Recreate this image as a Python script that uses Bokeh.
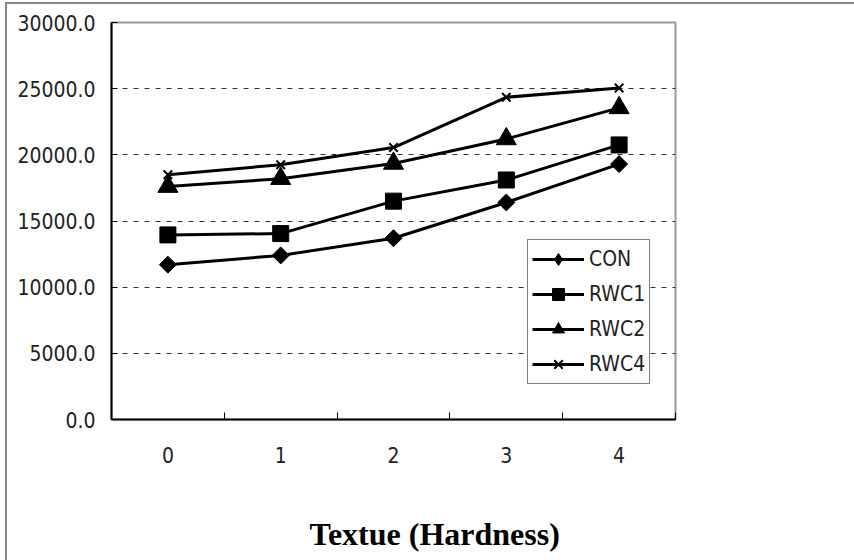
import math
from bokeh.plotting import figure
from bokeh.models import (Range1d, FixedTicker, NumeralTickFormatter, Title,
                          Legend, LegendItem, InlineStyleSheet, LinearAxis)
from bokeh.embed import file_html
from bokeh.resources import INLINE

# ---- data ----
x_labels = ["0", "1", "2", "3", "4"]
series_names = ["CON", "RWC1", "RWC2", "RWC4"]
con = [11700, 12400, 13700, 16400, 19300]
rwc1 = [13950, 14050, 16500, 18100, 20750]
rwc2 = [17600, 18200, 19350, 21200, 23550]
rwc4 = [18500, 19250, 20550, 24350, 25050]
y_ticks = [0, 5000, 10000, 15000, 20000, 25000, 30000]
x_title = "Textue (Hardness)"

NARROW = "'Liberation Sans Narrow', 'DejaVu Sans Condensed', sans-serif"

x_idx = list(range(len(x_labels)))

p = figure(width=854, height=560,
           x_range=Range1d(-0.5, len(x_labels) - 0.5),
           y_range=Range1d(y_ticks[0], y_ticks[-1]),
           output_backend="svg", toolbar_location=None,
           min_border_left=111, min_border_right=179,
           min_border_top=22, min_border_bottom=141)

p.background_fill_color = "white"
p.border_fill_color = "white"
p.outline_line_color = "#999999"
p.outline_line_width = 2

# outer chart border (left and top edges visible in the reference)
p.stylesheets = [InlineStyleSheet(css="""
:host { position: relative; }
:host::after { content: ""; position: absolute; left: 5px; top: 2px; right: 0; bottom: 0;
  border-left: 2px solid #8a8a8a; border-top: 2px solid #8a8a8a; pointer-events: none; }
""")]

# grid
p.xgrid.visible = False
p.ygrid.ticker = FixedTicker(ticks=y_ticks[1:-1])
p.ygrid.grid_line_color = "#303030"
p.ygrid.grid_line_dash = "5 6"
p.ygrid.grid_line_width = 1

# y axis
p.yaxis.ticker = FixedTicker(ticks=y_ticks)
p.yaxis.formatter = NumeralTickFormatter(format="0.0")
p.yaxis.major_tick_in = 6
p.yaxis.major_tick_out = 0
p.yaxis.minor_tick_line_color = None
p.yaxis.major_label_standoff = 16
p.yaxis.major_label_text_font = NARROW
p.yaxis.major_label_text_font_size = "21px"
p.yaxis.major_label_text_color = "#222222"
p.yaxis.axis_line_color = "black"
p.yaxis.axis_line_width = 2
p.yaxis.major_tick_line_color = "black"

# x axis: labels at category centres, ticks at boundaries
p.xaxis.ticker = FixedTicker(ticks=x_idx,
                             minor_ticks=[i - 0.5 for i in range(len(x_labels) + 1)])
p.xaxis.major_label_overrides = {i: lab for i, lab in zip(x_idx, x_labels)}
p.xaxis.major_tick_in = 0
p.xaxis.major_tick_out = 0
p.xaxis.minor_tick_in = 7
p.xaxis.minor_tick_out = 0
p.xaxis.minor_tick_line_color = "black"
p.xaxis.major_label_standoff = 27
p.xaxis.major_label_text_font = NARROW
p.xaxis.major_label_text_font_size = "21px"
p.xaxis.major_label_text_color = "#222222"
p.xaxis.axis_line_color = "black"
p.xaxis.axis_line_width = 2

# invisible spacer axis (one hidden tick) to push the bottom title down
spacer = LinearAxis(ticker=FixedTicker(ticks=[x_idx[0]]), major_tick_out=50,
                    major_tick_in=0, minor_tick_out=0, minor_tick_in=0,
                    major_label_standoff=0, major_label_overrides={x_idx[0]: ""},
                    axis_line_color=None, major_tick_line_color=None,
                    minor_tick_line_color=None)
p.add_layout(spacer, "below")

# series
styles = [
    (con, dict(marker="square", size=12, angle=math.pi / 4)),
    (rwc1, dict(marker="square", size=16)),
    (rwc2, dict(marker="triangle", size=20)),
    (rwc4, dict(marker="x", size=12, line_width=2)),
]
items = []
for name, (vals, mk) in zip(series_names, styles):
    lr = p.line(x_idx, vals, line_color="black", line_width=3)
    sr = p.scatter(x_idx, vals, fill_color="black", line_color="black", **mk)
    rends = [lr, sr]
    if mk.get("angle"):
        # legend swatch: a diamond (rotation is not kept in legend swatches)
        proxy = p.scatter(x_idx, vals, marker="diamond", size=14,
                          fill_color="black", line_color="black", visible=False)
        rends = [lr, proxy]
    items.append(LegendItem(label=name, renderers=rends))

leg = Legend(items=items, location=(416, 35))
leg.border_line_color = "black"
leg.border_line_width = 1
leg.background_fill_color = "white"
leg.background_fill_alpha = 1
leg.glyph_width = 52
leg.glyph_height = 30
leg.label_height = 30
leg.spacing = 5
leg.padding = 4
leg.margin = 0
leg.label_standoff = 5
leg.label_text_font = NARROW
leg.label_text_font_size = "21px"
leg.label_text_color = "#222222"
p.add_layout(leg, "center")

# bottom title (centred on the whole chart, not on the frame)
p.add_layout(Title(text=x_title, align="left", offset=198, standoff=0,
                   vertical_align="top",
                   text_font="Liberation Serif", text_font_style="bold",
                   text_font_size="32px", text_color="black"), "below")

open("out.html", "w").write(file_html(p, INLINE))
